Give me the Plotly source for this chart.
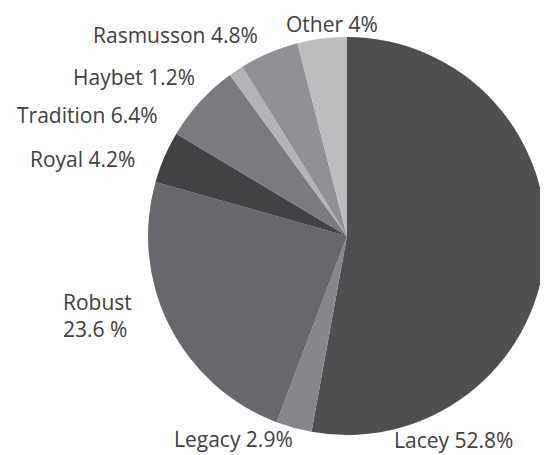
import plotly.graph_objects as go

labels = ["Lacey", "Legacy", "Robust", "Royal", "Tradition", "Haybet", "Rasmusson", "Other"]
values = [52.8, 2.9, 23.6, 4.2, 6.4, 1.2, 4.8, 4.0]
label_texts = ["Lacey 52.8%", "Legacy 2.9%", "Robust<br>23.6 %", "Royal 4.2%",
               "Tradition 6.4%", "Haybet 1.2%", "Rasmusson 4.8%", "Other 4%"]
colors = ["#4e4f51", "#86878a", "#67686b", "#414244", "#7a7b7e", "#b3b4b6", "#909194", "#bcbdbf"]

# page body has an 8px default margin; figure is sized to fit the window
OFF = 8
W, H = 548 - OFF, 455 - OFF
cx, cy, r = 347 - OFF, 236 - OFF, 199

fig = go.Figure(go.Pie(
    labels=labels, values=values, sort=False, direction="clockwise", rotation=0,
    marker=dict(colors=colors, line=dict(width=0)),
    textinfo="none", hoverinfo="label+percent",
    domain=dict(x=[(cx - r) / W, min(1, (cx + r) / W)], y=[(H - cy - r) / H, (H - cy + r) / H]),
    showlegend=False,
))

# label placement (reference pixel positions -> paper)
pos = {
    "Lacey": (392, 440, "left"),
    "Legacy": (172, 439, "left"),
    "Robust": (61, 315, "left"),
    "Royal": (137, 159, "right"),
    "Tradition": (160, 115, "right"),
    "Haybet": (197, 77, "right"),
    "Rasmusson": (260, 35, "right"),
    "Other": (284, 24, "left"),
}
for lab, txt in zip(labels, label_texts):
    px, py, anc = pos[lab]
    fig.add_annotation(x=(px - OFF) / W, y=1 - (py - OFF) / H, xref="paper", yref="paper", text=txt,
                       showarrow=False, xanchor=anc, yanchor="middle", align="left",
                       font=dict(family="Open Sans", size=21, color="#404040"))

fig.update_layout(width=W, height=H, margin=dict(l=0, r=0, t=0, b=0),
                  paper_bgcolor="white", plot_bgcolor="white")
fig.write_html("out.html")
